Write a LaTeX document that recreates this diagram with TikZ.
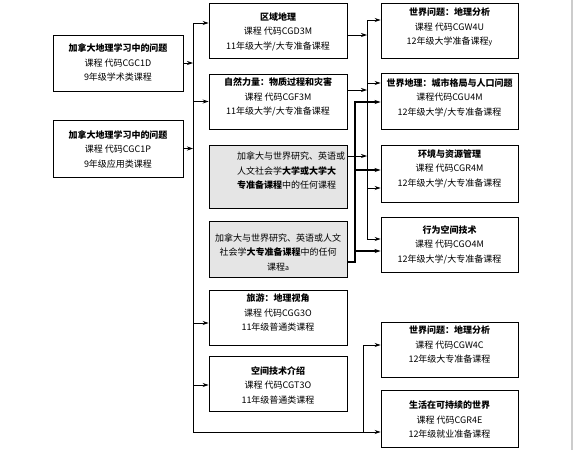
\documentclass[tikz,border=0pt]{standalone}
\usepackage{fontspec}
\setmainfont{Noto Sans CJK SC}
\usetikzlibrary{arrows.meta}
\begin{document}
\begin{tikzpicture}[x=1pt,y=-1pt,
  box/.style={draw=black,line width=0.9pt,inner sep=0pt},
  lbox/.style={box,minimum width=130pt},
  mbox/.style={box,minimum width=138pt},
  rbox/.style={box,minimum width=137pt},
  gray box/.style={fill=black!10},
  txt/.style={align=center,inner sep=0pt,font=\fontsize{9}{14.5}\selectfont},
  ln/.style={line width=0.8pt,black},
  thk/.style={line width=2pt,black},
  tip/.style={-{Stealth[length=6pt,width=4pt]}}]
\useasboundingbox (0,0) rectangle (574,450);
\fill[white] (0,0) rectangle (574,450);
\draw[black!20,line width=1.5pt] (572,0) -- (572,450);
% left boxes
\node[lbox,minimum height=56pt] (L1) at (118,63) {};
\node[txt] (L1t) at (118,62.5) {\textbf{加拿大地理学习中的问题}\\课程 代码CGC1D\\9年级学术类课程};
\node[lbox,minimum height=57pt] (L2) at (118,148.5) {};
\node[txt] (L2t) at (118,149) {\textbf{加拿大地理学习中的问题}\\课程 代码CGC1P\\9年级应用类课程};
% middle boxes
\node[mbox,minimum height=55pt] (M1) at (278,30.5) {};
\node[txt] (M1t) at (278,31.5) {\textbf{区域地理}\\课程 代码CGD3M\\11年级大学/大专准备课程};
\node[mbox,minimum height=55pt] (M2) at (278,101.5) {};
\node[txt] (M2t) at (278,97) {\textbf{自然力量：物质过程和灾害}\\课程 代码CGF3M\\11年级大学/大专准备课程};
\node[mbox,gray box,minimum height=63pt] (M3) at (278,176.5) {};
\node[txt,align=left,anchor=west] (M3t) at (237,171) {加拿大与世界研究、英语或\\人文社会学\textbf{大学或大学大}\\\textbf{专准备课程}中的任何课程};
\node[mbox,gray box,minimum height=56pt] (M4) at (278,249) {};
\node[txt] (M4t) at (278,252) {加拿大与世界研究、英语或人文\\社会学\textbf{大专准备课程}中的任何\\课程{\scriptsize a}};
\node[mbox,minimum height=55pt] (M5) at (278,317.5) {};
\node[txt] (M5t) at (278,312.5) {\textbf{旅游：地理视角}\\课程 代码CGG3O\\11年级普通类课程};
\node[mbox,minimum height=55pt] (M6) at (278,383.5) {};
\node[txt] (M6t) at (278,385) {\textbf{空间技术介绍}\\课程 代码CGT3O\\11年级普通类课程};
% right boxes
\node[rbox,minimum height=55pt] (R1) at (449.5,30.5) {};
\node[txt] (R1t) at (449.5,27) {\textbf{世界问题：地理分析}\\课程 代码CGW4U\\12年级大学准备课程{\scriptsize y}};
\node[rbox,minimum height=56pt] (R2) at (449.5,101) {};
\node[txt] (R2t) at (449.5,97.5) {\textbf{世界地理：城市格局与人口问题}\\课程代码CGU4M\\12年级大学/大专准备课程};
\node[rbox,minimum height=57pt] (R3) at (449.5,173.5) {};
\node[txt] (R3t) at (449.5,168.5) {\textbf{环境与资源管理}\\课程 代码CGR4M\\12年级大学/大专准备课程};
\node[rbox,minimum height=55pt] (R4) at (449.5,244.5) {};
\node[txt] (R4t) at (449.5,244.5) {\textbf{行为空间技术}\\课程 代码CGO4M\\12年级大学/大专准备课程};
\node[rbox,minimum height=55pt] (R5) at (449.5,349.5) {};
\node[txt] (R5t) at (449.5,345) {\textbf{世界问题：地理分析}\\课程 代码CGW4C\\12年级大专准备课程};
\node[rbox,minimum height=57pt] (R6) at (449.5,418.5) {};
\node[txt] (R6t) at (449.5,420) {\textbf{生活在可持续的世界}\\课程 代码CGR4E\\12年级就业准备课程};
% left spine
\coordinate (sTop) at (193,23);
\coordinate (sBot) at (193,432);
\coordinate (s5) at (193,323);
\coordinate (s6) at (193,385);
\draw[ln,tip] (sTop) -- (sBot) -- (sBot -| R6.west);
\draw[ln,tip] (L1.east) -- (L1.east -| sTop);
\draw[ln,tip] (L2.east) -- (L2.east -| sTop);
\draw[ln,tip] (sTop) -- (sTop -| M1.west);
\draw[ln,tip] (M2.west -| sTop) -- (M2.west);
\draw[ln,tip] (s5) -- (s5 -| M5.west);
\draw[ln,tip] (s6) -- (s6 -| M6.west);
% right thin spine
\coordinate (tTop) at (367,20);
\coordinate (tBot) at (367,239);
\coordinate (t2) at (367,83);
\coordinate (t3) at (367,188);
\coordinate (k1) at (367,35);
\coordinate (k2) at (367,90);
\coordinate (k3) at (367,156);
\draw[ln] (tTop) -- (tBot);
\draw[ln,tip] (k1 -| M1.east) -- (k1);
\draw[ln,tip] (k2 -| M2.east) -- (k2);
\draw[ln,tip] (k3 -| M3.east) -- (k3);
\draw[ln,tip] (tTop) -- (tTop -| R1.west);
\draw[ln,tip] (t2) -- (t2 -| R2.west);
\draw[ln,tip] (t3) -- (t3 -| R3.west);
\draw[ln,tip] (tBot) -- (tBot -| R4.west);
% thick route
\coordinate (h1) at (355,102);
\coordinate (h2) at (355,262);
\coordinate (h3) at (355,170);
\coordinate (h4) at (355,251);
\draw[thk,tip] (h2 -| M4.east) -- (h2) -- (h1) -- (h1 -| R2.west);
\draw[thk,tip] (h3) -- (h3 -| R3.west);
\draw[thk,tip] (h4) -- (h4 -| R4.west);
% bottom right
\coordinate (b1) at (363,432);
\coordinate (b2) at (363,345);
\draw[ln,tip] (b1) -- (b2) -- (b2 -| R5.west);
\end{tikzpicture}
\end{document}
